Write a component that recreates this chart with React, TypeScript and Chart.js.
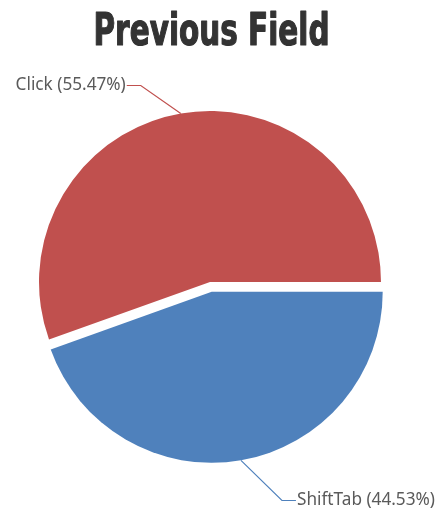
import React, { useEffect, useRef } from 'react';
import { Chart, registerables } from 'chart.js';

Chart.register(...registerables);

const TITLE = 'Previous Field';
const categories = ['ShiftTab', 'Click'];
const percentages = [44.53, 55.47];
const colors = ['#4F81BC', '#C0504E'];
const exploded = [true, false];

const EXPLODE_PX = 10;
const RADIUS = 171;
const LEADER = [
  { dx: 41, dy: 40 },
  { dx: -40, dy: -29 },
];
const TAIL = 14;
const LABEL_FONT = '17.2px "Noto Sans"';
const LABEL_COLOR = '#5a5a5a';
const TITLE_FONT = 'bold 44px "DejaVu Sans Condensed", "DejaVu Sans", sans-serif';
const TITLE_WIDTH = 236;
const TITLE_CENTER_X = 211.5;
const TITLE_BASELINE = 45;

const titlePlugin = {
  id: 'condensedTitle',
  afterDraw(chart: any) {
    const ctx = chart.ctx;
    ctx.save();
    ctx.font = TITLE_FONT;
    ctx.fillStyle = '#333333';
    ctx.strokeStyle = '#333333';
    ctx.lineWidth = 1.2;
    ctx.lineJoin = 'round';
    ctx.textAlign = 'center';
    ctx.textBaseline = 'alphabetic';
    const w = ctx.measureText(TITLE).width;
    const sx = TITLE_WIDTH / w;
    ctx.translate(TITLE_CENTER_X, TITLE_BASELINE);
    ctx.scale(sx, 1);
    ctx.fillText(TITLE, 0, 0);
    ctx.strokeText(TITLE, 0, 0);
    ctx.restore();
  },
};

const explodePlugin = {
  id: 'explodeSlices',
  beforeDatasetDraw(chart: any, args: any) {
    const ctx = chart.ctx;
    args.meta.data.forEach((arc: any, i: number) => {
      const p = arc.getProps(['startAngle', 'endAngle'], true);
      const mid = (p.startAngle + p.endAngle) / 2;
      const s = exploded[i] ? EXPLODE_PX : 0;
      ctx.save();
      ctx.translate(Math.cos(mid) * s, Math.sin(mid) * s);
      arc.draw(ctx);
      ctx.restore();
    });
    return false;
  },
};

const labelPlugin = {
  id: 'sliceLabels',
  afterDraw(chart: any) {
    const ctx = chart.ctx;
    const meta = chart.getDatasetMeta(0);
    meta.data.forEach((arc: any, i: number) => {
      const p = arc.getProps(['x', 'y', 'startAngle', 'endAngle', 'outerRadius'], true);
      const mid = (p.startAngle + p.endAngle) / 2;
      const s = exploded[i] ? EXPLODE_PX : 0;
      const cx = p.x + Math.cos(mid) * s;
      const cy = p.y + Math.sin(mid) * s;
      const ex = cx + Math.cos(mid) * p.outerRadius;
      const ey = cy + Math.sin(mid) * p.outerRadius;
      const bx = ex + LEADER[i].dx;
      const by = Math.round(ey + LEADER[i].dy) + 0.5;
      const dir = Math.cos(mid) >= 0 ? 1 : -1;
      const tx = bx + dir * TAIL;
      ctx.save();
      ctx.strokeStyle = colors[i];
      ctx.lineWidth = 1.2;
      ctx.beginPath();
      ctx.moveTo(ex, ey);
      ctx.lineTo(bx, by);
      ctx.lineTo(tx, by);
      ctx.stroke();
      ctx.fillStyle = LABEL_COLOR;
      ctx.font = LABEL_FONT;
      ctx.textAlign = dir > 0 ? 'left' : 'right';
      ctx.textBaseline = 'alphabetic';
      ctx.fillText(`${categories[i]} (${percentages[i].toFixed(2)}%)`, tx + dir * 1, by + 4);
      ctx.restore();
    });
  },
};

export default function App() {
  const ref = useRef<HTMLCanvasElement>(null);
  useEffect(() => {
    if (!ref.current) return;
    const chart = new Chart(ref.current, {
      type: 'pie',
      data: {
        labels: categories,
        datasets: [
          {
            data: percentages,
            backgroundColor: colors,
            borderWidth: 0,
            radius: RADIUS,
          } as any,
        ],
      },
      options: {
        animation: false,
        responsive: false,
        rotation: 90,
        radius: RADIUS,
        layout: { padding: { left: 0, right: 17, top: 56, bottom: 0 } },
        plugins: {
          legend: { display: false },
          tooltip: { enabled: false },
          title: { display: false },
        },
      } as any,
      plugins: [explodePlugin, labelPlugin, titlePlugin],
    });
    return () => chart.destroy();
  }, []);
  return (
    <div style={{ position: 'absolute', left: 0, top: 0, width: 437, height: 508 }}>
      <canvas ref={ref} width={437} height={508} />
    </div>
  );
}
